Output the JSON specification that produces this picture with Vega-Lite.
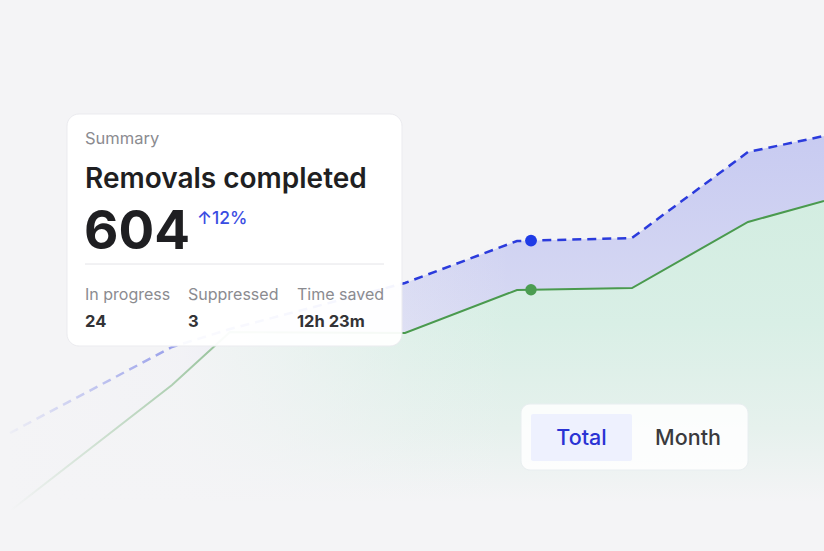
{
  "$schema": "https://vega.github.io/schema/vega-lite/v6.json",
  "width": 824,
  "height": 551,
  "padding": 0,
  "autosize": "none",
  "background": "#f4f4f6",
  "config": {"view": {"stroke": null}, "axis": {"disable": true}},
  "datasets": {
    "series": [
      {"x": 10, "blue": 118, "green": 40},
      {"x": 172, "blue": 204, "green": 166},
      {"x": 230, "blue": 222, "green": 219},
      {"x": 405, "blue": 268, "green": 218},
      {"x": 517, "blue": 310, "green": 261},
      {"x": 632, "blue": 313, "green": 263},
      {"x": 748, "blue": 399, "green": 329},
      {"x": 824, "blue": 415, "green": 350}
    ],
    "markers": [
      {"x": 531, "blue": 310.4, "green": 261.2}
    ],
    "frame": [{"x0": 0, "x1": 824, "y0": 0, "y1": 551}],
    "card": [{"x0": 67, "x1": 402, "y0": 205, "y1": 437}],
    "divider": [{"x0": 85, "x1": 384, "y": 287}],
    "toggle": [{"x0": 521, "x1": 748, "y0": 81, "y1": 147}],
    "toggleActive": [{"x0": 531, "x1": 632, "y0": 90, "y1": 137}]
  },
  "layer": [
    {
      "data": {"name": "series"},
      "mark": {
        "type": "area",
        "fill": {"gradient": "linear", "x1": 0, "y1": 0, "x2": 0, "y2": 1,
          "stops": [
            {"offset": 0, "color": "#d3ede1"},
            {"offset": 0.35, "color": "#d9efe6"},
            {"offset": 0.65, "color": "#e6f1ed"},
            {"offset": 0.86, "color": "#f4f4f6"},
            {"offset": 1, "color": "#f4f4f6"}
          ]}
      },
      "encoding": {
        "x": {"field": "x", "type": "quantitative", "axis": null, "scale": {"domain": [0, 824], "nice": false}},
        "y": {"field": "green", "type": "quantitative", "axis": null, "scale": {"domain": [0, 551], "nice": false}}
      }
    },
    {
      "data": {"name": "series"},
      "mark": {
        "type": "area",
        "fill": {"gradient": "linear", "x1": 0, "y1": 0, "x2": 0, "y2": 1,
          "stops": [
            {"offset": 0, "color": "#c8cbf1"},
            {"offset": 0.6, "color": "#dadcf3"},
            {"offset": 1, "color": "#e6e7f3"}
          ]}
      },
      "encoding": {
        "x": {"field": "x", "type": "quantitative", "axis": null, "scale": {"domain": [0, 824], "nice": false}},
        "y": {"field": "blue", "type": "quantitative", "axis": null, "scale": {"domain": [0, 551], "nice": false}},
        "y2": {"field": "green"}
      }
    },
    {
      "data": {"name": "frame"},
      "mark": {
        "type": "rect",
        "fill": {"gradient": "linear", "x1": 0, "y1": 0, "x2": 1, "y2": 0,
          "stops": [
            {"offset": 0, "color": "rgba(244,244,246,1)"},
            {"offset": 0.22, "color": "rgba(244,244,246,0.93)"},
            {"offset": 0.32, "color": "rgba(244,244,246,0.7)"},
            {"offset": 0.5, "color": "rgba(244,244,246,0.2)"},
            {"offset": 0.62, "color": "rgba(244,244,246,0)"},
            {"offset": 1, "color": "rgba(244,244,246,0)"}
          ]}
      },
      "encoding": {
        "x": {"field": "x0", "type": "quantitative", "axis": null, "scale": {"domain": [0, 824], "nice": false}},
        "x2": {"field": "x1"},
        "y": {"field": "y0", "type": "quantitative", "axis": null, "scale": {"domain": [0, 551], "nice": false}},
        "y2": {"field": "y1"}
      }
    },
    {
      "data": {"name": "series"},
      "mark": {
        "type": "line",
        "strokeWidth": 2.5,
        "strokeDash": [9, 6],
        "stroke": {"gradient": "linear", "x1": 0, "y1": 0, "x2": 1, "y2": 0,
          "stops": [
            {"offset": 0, "color": "rgba(43,59,220,0.03)"},
            {"offset": 0.2, "color": "rgba(43,59,220,0.45)"},
            {"offset": 0.45, "color": "rgba(43,59,220,1)"},
            {"offset": 1, "color": "rgba(43,59,220,1)"}
          ]}
      },
      "encoding": {
        "x": {"field": "x", "type": "quantitative", "axis": null, "scale": {"domain": [0, 824], "nice": false}},
        "y": {"field": "blue", "type": "quantitative", "axis": null, "scale": {"domain": [0, 551], "nice": false}}
      }
    },
    {
      "data": {"name": "series"},
      "mark": {
        "type": "line",
        "strokeWidth": 2,
        "stroke": {"gradient": "linear", "x1": 0, "y1": 0, "x2": 1, "y2": 0,
          "stops": [
            {"offset": 0, "color": "rgba(74,154,78,0)"},
            {"offset": 0.2, "color": "rgba(74,154,78,0.4)"},
            {"offset": 0.45, "color": "rgba(74,154,78,1)"},
            {"offset": 1, "color": "rgba(74,154,78,1)"}
          ]}
      },
      "encoding": {
        "x": {"field": "x", "type": "quantitative", "axis": null, "scale": {"domain": [0, 824], "nice": false}},
        "y": {"field": "green", "type": "quantitative", "axis": null, "scale": {"domain": [0, 551], "nice": false}}
      }
    },
    {
      "data": {"name": "markers"},
      "mark": {"type": "circle", "size": 140, "color": "#1f3be6", "opacity": 1},
      "encoding": {
        "x": {"field": "x", "type": "quantitative", "axis": null, "scale": {"domain": [0, 824], "nice": false}},
        "y": {"field": "blue", "type": "quantitative", "axis": null, "scale": {"domain": [0, 551], "nice": false}}
      }
    },
    {
      "data": {"name": "markers"},
      "mark": {"type": "circle", "size": 130, "color": "#4b9d51", "opacity": 1},
      "encoding": {
        "x": {"field": "x", "type": "quantitative", "axis": null, "scale": {"domain": [0, 824], "nice": false}},
        "y": {"field": "green", "type": "quantitative", "axis": null, "scale": {"domain": [0, 551], "nice": false}}
      }
    },
    {
      "data": {"name": "card"},
      "mark": {"type": "rect", "cornerRadius": 12, "fill": "#ffffff", "fillOpacity": 0.95, "stroke": "#ebebef", "strokeWidth": 1},
      "encoding": {
        "x": {"field": "x0", "type": "quantitative", "axis": null, "scale": {"domain": [0, 824], "nice": false}},
        "x2": {"field": "x1"},
        "y": {"field": "y0", "type": "quantitative", "axis": null, "scale": {"domain": [0, 551], "nice": false}},
        "y2": {"field": "y1"}
      }
    },
    {
      "data": {"name": "divider"},
      "mark": {"type": "rule", "color": "#e4e4e8", "strokeWidth": 1},
      "encoding": {
        "x": {"field": "x0", "type": "quantitative", "axis": null, "scale": {"domain": [0, 824], "nice": false}},
        "x2": {"field": "x1"},
        "y": {"field": "y", "type": "quantitative", "axis": null, "scale": {"domain": [0, 551], "nice": false}}
      }
    },
    {
      "data": {"values": [{"x": 85, "y": 407, "label": "Summary"}]},
      "mark": {"type": "text", "align": "left", "baseline": "alphabetic", "font": "Inter", "fontSize": 16.5, "color": "#8b8b90"},
      "encoding": {
        "x": {"field": "x", "type": "quantitative", "axis": null, "scale": {"domain": [0, 824], "nice": false}},
        "y": {"field": "y", "type": "quantitative", "axis": null, "scale": {"domain": [0, 551], "nice": false}},
        "text": {"field": "label"}
      }
    },
    {
      "data": {"values": [{"x": 85, "y": 363, "label": "Removals completed"}]},
      "mark": {"type": "text", "align": "left", "baseline": "alphabetic", "font": "Inter", "fontSize": 28, "fontWeight": 600, "color": "#1f1f22"},
      "encoding": {
        "x": {"field": "x", "type": "quantitative", "axis": null, "scale": {"domain": [0, 824], "nice": false}},
        "y": {"field": "y", "type": "quantitative", "axis": null, "scale": {"domain": [0, 551], "nice": false}},
        "text": {"field": "label"}
      }
    },
    {
      "data": {"values": [{"x": 84, "y": 302, "label": "604"}]},
      "mark": {"type": "text", "align": "left", "baseline": "alphabetic", "font": "Inter", "fontSize": 53, "fontWeight": 700, "color": "#1f1f22"},
      "encoding": {
        "x": {"field": "x", "type": "quantitative", "axis": null, "scale": {"domain": [0, 824], "nice": false}},
        "y": {"field": "y", "type": "quantitative", "axis": null, "scale": {"domain": [0, 551], "nice": false}},
        "text": {"field": "label"}
      }
    },
    {
      "data": {"values": [{"x": 197, "y": 327, "label": "↑12%"}]},
      "mark": {"type": "text", "align": "left", "baseline": "alphabetic", "font": "Inter", "fontSize": 17.5, "fontWeight": 500, "color": "#3a4de2"},
      "encoding": {
        "x": {"field": "x", "type": "quantitative", "axis": null, "scale": {"domain": [0, 824], "nice": false}},
        "y": {"field": "y", "type": "quantitative", "axis": null, "scale": {"domain": [0, 551], "nice": false}},
        "text": {"field": "label"}
      }
    },
    {
      "data": {"values": [
        {"x": 85, "y": 251, "label": "In progress"},
        {"x": 188, "y": 251, "label": "Suppressed"},
        {"x": 297, "y": 251, "label": "Time saved"}
      ]},
      "mark": {"type": "text", "align": "left", "baseline": "alphabetic", "font": "Inter", "fontSize": 16, "color": "#8b8b90"},
      "encoding": {
        "x": {"field": "x", "type": "quantitative", "axis": null, "scale": {"domain": [0, 824], "nice": false}},
        "y": {"field": "y", "type": "quantitative", "axis": null, "scale": {"domain": [0, 551], "nice": false}},
        "text": {"field": "label"}
      }
    },
    {
      "data": {"values": [
        {"x": 85, "y": 224, "label": "24"},
        {"x": 188, "y": 224, "label": "3"},
        {"x": 297, "y": 224, "label": "12h 23m"}
      ]},
      "mark": {"type": "text", "align": "left", "baseline": "alphabetic", "font": "Inter", "fontSize": 16.5, "fontWeight": 700, "color": "#333336"},
      "encoding": {
        "x": {"field": "x", "type": "quantitative", "axis": null, "scale": {"domain": [0, 824], "nice": false}},
        "y": {"field": "y", "type": "quantitative", "axis": null, "scale": {"domain": [0, 551], "nice": false}},
        "text": {"field": "label"}
      }
    },
    {
      "data": {"name": "toggle"},
      "mark": {"type": "rect", "cornerRadius": 9, "fill": "#ffffff", "fillOpacity": 0.85, "stroke": "#e8eef0", "strokeWidth": 1},
      "encoding": {
        "x": {"field": "x0", "type": "quantitative", "axis": null, "scale": {"domain": [0, 824], "nice": false}},
        "x2": {"field": "x1"},
        "y": {"field": "y0", "type": "quantitative", "axis": null, "scale": {"domain": [0, 551], "nice": false}},
        "y2": {"field": "y1"}
      }
    },
    {
      "data": {"name": "toggleActive"},
      "mark": {"type": "rect", "cornerRadius": 2, "fill": "#eef1fe"},
      "encoding": {
        "x": {"field": "x0", "type": "quantitative", "axis": null, "scale": {"domain": [0, 824], "nice": false}},
        "x2": {"field": "x1"},
        "y": {"field": "y0", "type": "quantitative", "axis": null, "scale": {"domain": [0, 551], "nice": false}},
        "y2": {"field": "y1"}
      }
    },
    {
      "data": {"values": [{"x": 581.5, "y": 106, "label": "Total"}]},
      "mark": {"type": "text", "align": "center", "baseline": "alphabetic", "font": "Inter", "fontSize": 21.5, "fontWeight": 500, "color": "#2a33d4"},
      "encoding": {
        "x": {"field": "x", "type": "quantitative", "axis": null, "scale": {"domain": [0, 824], "nice": false}},
        "y": {"field": "y", "type": "quantitative", "axis": null, "scale": {"domain": [0, 551], "nice": false}},
        "text": {"field": "label"}
      }
    },
    {
      "data": {"values": [{"x": 688, "y": 106, "label": "Month"}]},
      "mark": {"type": "text", "align": "center", "baseline": "alphabetic", "font": "Inter", "fontSize": 21.5, "fontWeight": 500, "color": "#3a3a3d"},
      "encoding": {
        "x": {"field": "x", "type": "quantitative", "axis": null, "scale": {"domain": [0, 824], "nice": false}},
        "y": {"field": "y", "type": "quantitative", "axis": null, "scale": {"domain": [0, 551], "nice": false}},
        "text": {"field": "label"}
      }
    }
  ]
}
